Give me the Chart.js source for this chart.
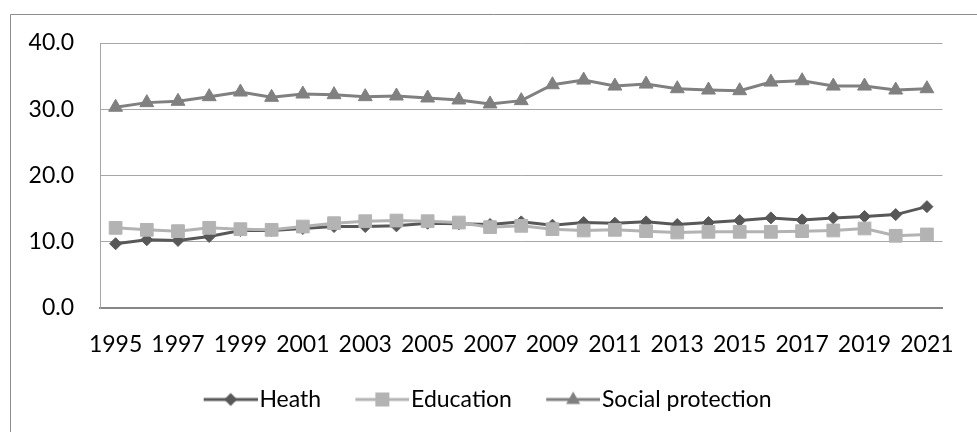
<!DOCTYPE html>
<html>
<head>
<meta charset="utf-8">
<script src="https://cdn.jsdelivr.net/npm/chart.js@4/dist/chart.umd.min.js"></script>
<style>
  html, body { margin: 0; padding: 0; background: #ffffff; }
  canvas { display: block; }
</style>
</head>
<body>
<canvas id="chart" width="977" height="432"></canvas>
<script>
// Public spending by function, % of total, 1995-2021
const years = ['1995','1996','1997','1998','1999','2000','2001','2002','2003','2004','2005','2006','2007','2008',
               '2009','2010','2011','2012','2013','2014','2015','2016','2017','2018','2019','2020','2021'];
const health = [9.7, 10.3, 10.2, 10.8, 11.7, 11.7, 12.0, 12.3, 12.3, 12.4, 12.8, 12.7, 12.6, 13.0,
                12.5, 12.9, 12.8, 13.0, 12.6, 12.9, 13.2, 13.6, 13.3, 13.6, 13.8, 14.1, 15.3];
const education = [12.1, 11.8, 11.6, 12.1, 11.9, 11.8, 12.3, 12.8, 13.1, 13.2, 13.1, 12.9, 12.2, 12.4,
                   11.9, 11.7, 11.8, 11.6, 11.4, 11.5, 11.5, 11.5, 11.6, 11.7, 12.0, 10.9, 11.1];
const socialProtection = [30.3, 31.0, 31.2, 31.9, 32.6, 31.8, 32.3, 32.2, 31.9, 32.0, 31.7, 31.4, 30.8, 31.3,
                          33.7, 34.4, 33.5, 33.8, 33.1, 32.9, 32.8, 34.1, 34.3, 33.5, 33.5, 32.9, 33.1];
const seriesNames = ['Heath', 'Education', 'Social protection'];
const yMin = 0, yMax = 40, yStep = 10;

const FONT = { family: 'Lato', size: 23 };
const COLORS = ['#585858', '#b3b3b3', '#808080'];

// Legend swatch: a short line with the series marker in its middle.
// The canvas carries a transparent strip on its left so the swatch sits
// right next to its label.
const SWATCH_LEFT = 24, SWATCH_LEN = 54;
function swatch(color, shape) {
  const c = document.createElement('canvas');
  c.width = SWATCH_LEFT + SWATCH_LEN; c.height = 18;
  const g = c.getContext('2d');
  g.strokeStyle = color; g.lineWidth = 3;
  g.beginPath(); g.moveTo(SWATCH_LEFT, 9); g.lineTo(SWATCH_LEFT + SWATCH_LEN, 9); g.stroke();
  g.fillStyle = color;
  const x = SWATCH_LEFT + SWATCH_LEN / 2, y = 9;
  g.beginPath();
  if (shape === 'diamond') {
    g.moveTo(x - 6.5, y); g.lineTo(x, y - 6.5); g.lineTo(x + 6.5, y); g.lineTo(x, y + 6.5);
  } else if (shape === 'square') {
    g.rect(x - 7, y - 7, 14, 14);
  } else {
    g.moveTo(x, y - 8); g.lineTo(x + 7, y + 4.5); g.lineTo(x - 7, y + 4.5);
  }
  g.closePath(); g.fill();
  return c;
}
const swatches = [swatch(COLORS[0], 'diamond'), swatch(COLORS[1], 'square'), swatch(COLORS[2], 'triangle')];

// Outer frame (top and left edges) and white background
const framePlugin = {
  id: 'frame',
  beforeDraw(chart) {
    const ctx = chart.ctx;
    ctx.save();
    ctx.fillStyle = '#ffffff';
    ctx.fillRect(0, 0, chart.width, chart.height);
    ctx.strokeStyle = '#8c8c8c';
    ctx.lineWidth = 1;
    ctx.beginPath();
    ctx.moveTo(10.5, chart.height);
    ctx.lineTo(10.5, 14.5);
    ctx.lineTo(chart.width, 14.5);
    ctx.stroke();
    ctx.restore();
  }
};

// Nudge the legend row so it is centred on the whole canvas
const legendShift = {
  id: 'legendShift',
  afterLayout(chart) {
    if (chart.legend) {
      chart.legend.left += 3;
      chart.legend.right += 3;
    }
  }
};

function lineSet(label, data, color, style, radius, order) {
  return {
    label, data,
    borderColor: color, backgroundColor: color,
    borderWidth: 3, tension: 0,
    pointStyle: style, pointRadius: radius,
    pointBackgroundColor: color, pointBorderColor: color, pointBorderWidth: 1,
    order
  };
}

new Chart(document.getElementById('chart'), {
  type: 'line',
  data: {
    labels: years,
    datasets: [
      lineSet(seriesNames[0], health, COLORS[0], 'rectRot', 6, 3),
      lineSet(seriesNames[1], education, COLORS[1], 'rect', 9, 2),
      lineSet(seriesNames[2], socialProtection, COLORS[2], 'triangle', 8, 1)
    ]
  },
  options: {
    responsive: false,
    animation: false,
    devicePixelRatio: 1,
    layout: { padding: { top: 43, right: 22, left: 0, bottom: 11 } },
    scales: {
      x: {
        type: 'category',
        offset: true,
        grid: { display: false, drawTicks: false },
        border: { color: '#868686', width: 2 },
        ticks: {
          autoSkip: false, maxRotation: 0, padding: 23, color: '#000000', font: FONT,
          callback(value, index) { return index % 2 === 0 ? this.getLabelForValue(value) : ''; }
        },
        afterFit(scale) { scale.height = 60; }
      },
      y: {
        min: yMin, max: yMax,
        grid: { color: '#a6a6a6', lineWidth: 1, drawTicks: false },
        border: { color: '#a6a6a6', width: 1 },
        ticks: {
          stepSize: yStep, padding: 26, color: '#000000', font: FONT,
          callback: (v) => Number(v).toFixed(1)
        },
        afterFit(scale) { scale.width = 100; }
      }
    },
    plugins: {
      tooltip: { enabled: false },
      legend: {
        position: 'bottom',
        labels: {
          usePointStyle: true,
          pointStyleWidth: 58.5,
          padding: 20,
          color: '#000000',
          font: FONT,
          sort: (a, b) => a.datasetIndex - b.datasetIndex,
          generateLabels(chart) {
            const items = Chart.defaults.plugins.legend.labels.generateLabels(chart);
            items.forEach((it) => { it.pointStyle = swatches[it.datasetIndex]; });
            return items;
          }
        }
      }
    }
  },
  plugins: [framePlugin, legendShift]
});
</script>
</body>
</html>
